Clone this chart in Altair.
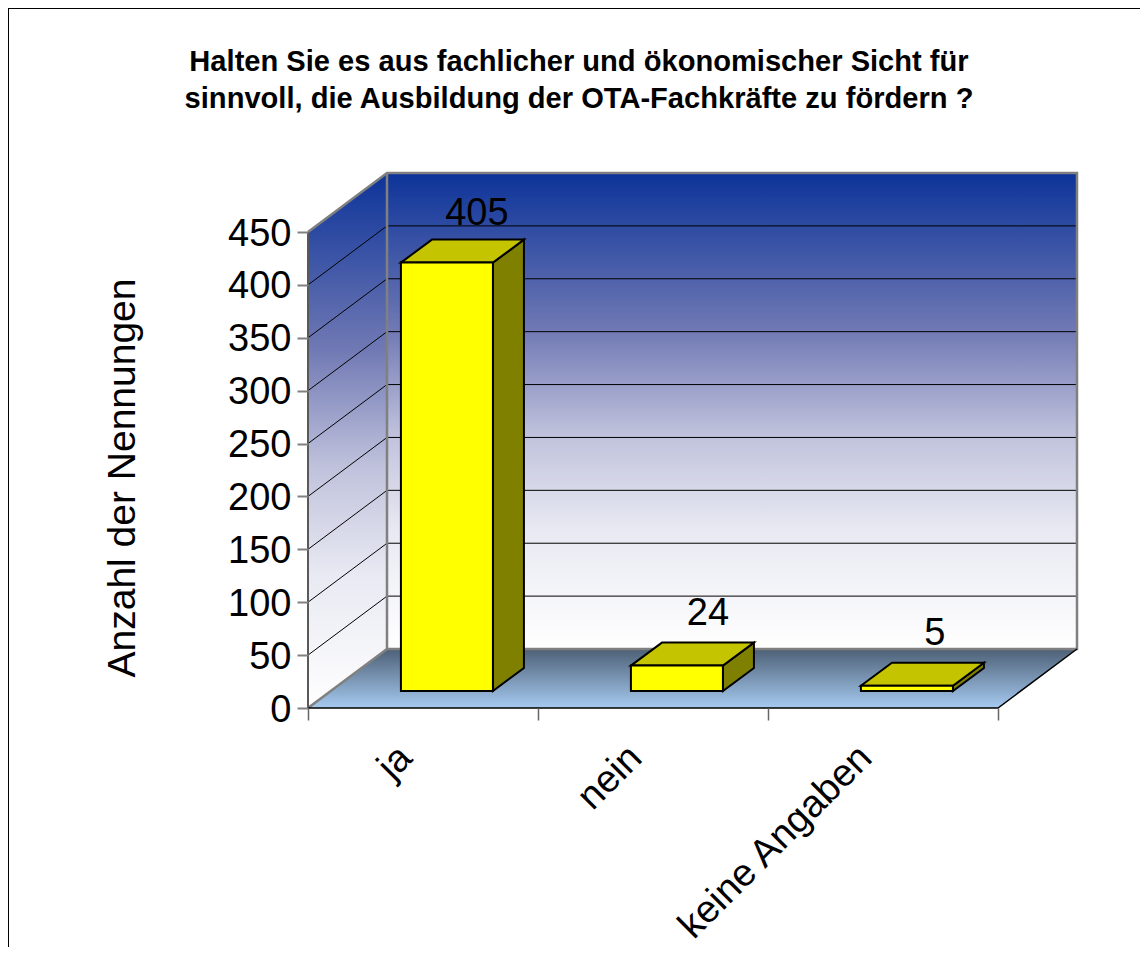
import altair as alt
import pandas as pd

categories = ["ja", "nein", "keine Angaben"]
values = [405, 24, 5]
y_ticks = [0, 50, 100, 150, 200, 250, 300, 350, 400, 450]
x_ticks = [0, 0.5, 1, 1.5, 2, 2.5, 3]
title_lines = ["Halten Sie es aus fachlicher und ökonomischer Sicht für",
               "sinnvoll, die Ausbildung der OTA-Fachkräfte zu fördern ?"]
y_title = "Anzahl der Nennungen"

FONT = "Liberation Sans"
PX_CAT = 230.0
PX_UNIT = 476.0 / 450.0
W, H = 769, 535
DX = 79 / PX_CAT          # depth of the box in data units
DY = 59 / PX_UNIT
BAR_L = 0.404
BAR_W = 0.40
BAR_DX = 31 / PX_CAT
BAR_DY = 23 / PX_UNIT
BASE = 17 / PX_UNIT
TOP = 450
LABEL_NUDGE_X = [-1, 0, -3]
LABEL_NUDGE_Y = [0, 3, 3]

xs = alt.Scale(domain=[0, W / PX_CAT], nice=False, zero=False)
ys = alt.Scale(domain=[0, H / PX_UNIT], nice=False, zero=False)


def X(f="x", **k):
    return alt.X(f, type="quantitative", scale=xs, title=None, **k)


def Y(f="y", **k):
    return alt.Y(f, type="quantitative", scale=ys, title=y_title, stack=None, **k)


def grad(stops):
    return alt.Gradient(gradient="linear", x1=0, x2=0, y1=0, y2=1,
                        stops=[alt.GradientStop(offset=o, color=c) for o, c in stops])


WALL = [(0, "#0c3399"), (0.33, "#7079b4"), (0.55, "#c0c2dc"), (0.75, "#e8e9f2"), (1, "#ffffff")]
FLOOR = [(0, "#4d6076"), (1, "#a6caf0")]

# page frame
frame = alt.Chart(pd.DataFrame({"x": [-300 / PX_CAT], "x2": [1200 / PX_CAT],
                                "y": [700 / PX_UNIT], "y2": [-600 / PX_UNIT]})).mark_rect(
    fill="white", stroke="black", strokeWidth=2, clip=False
).encode(x=X(), x2="x2", y=Y(), y2="y2")

# axes live on an invisible layer
axis_layer = alt.Chart(pd.DataFrame({"x": [0], "y": [0]})).mark_point(opacity=0).encode(
    x=alt.X("x:Q", scale=xs, title=None, axis=alt.Axis(
        values=x_ticks, domain=False, grid=False, tickSize=12, tickWidth=1.5, tickColor="#666666", zindex=1,
        tickOpacity={"condition": {"test": "datum.value % 1 === 0", "value": 1}, "value": 0},
        labelExpr="datum.value === 0.5 ? 'ja' : datum.value === 1.5 ? 'nein' : datum.value === 2.5 ? 'keine Angaben' : ''",
        labelAngle=-45, labelAlign="right", labelBaseline="middle", labelPadding=31, labelOffset=-18,
        labelFont=FONT, labelFontSize=38.5, labelColor="black", labelOverlap=False, labelLimit=500,
        labelBound=False, labelFlush=False)),
    y=alt.Y("y:Q", scale=ys, title=y_title, axis=alt.Axis(
        values=y_ticks, format="d", domain=False, grid=False, tickSize=11, tickWidth=2, zindex=1,
        tickColor="#808080", labelPadding=6, labelOffset=2, labelFont=FONT, labelFontSize=38,
        labelColor="black", labelOverlap=False, labelBound=False, labelFlush=False,
        titleFont=FONT, titleFontSize=39, titleFontWeight="normal", titleColor="black",
        titleAngle=270, titleAlign="center", titleBaseline="middle",
        titleX=-186, titleY=304.5)),
)

# walls and floor
left_wall = alt.Chart(pd.DataFrame({"x": [0, DX], "y": [TOP, TOP + DY], "y2": [0, DY]})).mark_area(
    fill=grad(WALL), clip=False
).encode(x=X(), y=Y(), y2="y2")

back_wall = alt.Chart(pd.DataFrame({"x": [DX], "x2": [DX + 3], "y": [TOP + DY], "y2": [DY]})).mark_rect(
    fill=grad(WALL)
).encode(x=X(), x2="x2", y=Y(), y2="y2")

floor = alt.Chart(pd.DataFrame({"y": [0, DY], "x": [0, DX], "x2": [3, 3 + DX]})).mark_area(
    fill=grad(FLOOR), orient="horizontal"
).encode(y=Y(), x=X(), x2="x2")

grid_rows = []
for t in y_ticks[1:-1]:
    grid_rows += [{"s": t, "x": 0, "y": t}, {"s": t, "x": DX, "y": t + DY}, {"s": t, "x": DX + 3, "y": t + DY}]
grid = alt.Chart(pd.DataFrame(grid_rows)).mark_line(color="black", strokeWidth=1).encode(
    x=X(), y=Y(), detail="s:N")


def seg(points, color, width):
    df = pd.DataFrame(points, columns=["x", "y"])
    df["o"] = range(len(df))
    return alt.Chart(df).mark_line(color=color, strokeWidth=width, clip=False).encode(
        x=X(), y=Y(), order="o:Q")


wall_edge = seg([(0, 0), (DX, DY), (DX + 3, DY), (DX + 3, TOP + DY), (DX, TOP + DY), (0, TOP)], "#808080", 2.5)
inner_edge = seg([(DX, DY), (DX, TOP + DY)], "#808080", 2.5)
left_edge = seg([(0, 0), (0, TOP)], "#595959", 2)
floor_edge = seg([(0, 0), (3, 0), (3 + DX, DY)], "black", 1.5)

# bars
front, side, top, labels = [], [], [], []
for i, (c, v) in enumerate(zip(categories, values)):
    x0 = i + BAR_L
    x1 = x0 + BAR_W
    y1 = BASE + v
    front.append({"c": c, "x": x0, "x2": x1, "y": y1, "y2": BASE})
    side += [{"c": c, "x": x1, "y": y1, "y2": BASE},
             {"c": c, "x": x1 + BAR_DX, "y": y1 + BAR_DY, "y2": BASE + BAR_DY}]
    top += [{"c": c, "y": y1, "x": x0, "x2": x1},
            {"c": c, "y": y1 + BAR_DY, "x": x0 + BAR_DX, "x2": x1 + BAR_DX}]
    labels.append({"c": c, "v": v,
                   "x": x0 + BAR_W / 2 + BAR_DX + LABEL_NUDGE_X[i] / PX_CAT,
                   "y": y1 + BAR_DY + LABEL_NUDGE_Y[i] / PX_UNIT})

bar_side = alt.Chart(pd.DataFrame(side)).mark_area(
    fill="#808000", stroke="black", strokeWidth=2, strokeJoin="miter"
).encode(x=X(), y=Y(), y2="y2", detail="c:N")
bar_top = alt.Chart(pd.DataFrame(top)).mark_area(
    fill="#c4c400", stroke="black", strokeWidth=2, orient="horizontal", strokeJoin="miter"
).encode(y=Y(), x=X(), x2="x2", detail="c:N")
bar_front = alt.Chart(pd.DataFrame(front)).mark_rect(
    fill="#ffff00", stroke="black", strokeWidth=2
).encode(x=X(), x2="x2", y=Y(), y2="y2", detail="c:N")
bar_text = alt.Chart(pd.DataFrame(labels)).mark_text(
    font=FONT, fontSize=38, color="black", align="center", baseline="alphabetic", dy=-15
).encode(x=X(), y=Y(), text="v:Q")

# chart title as text marks (centred over the page-wide chart)
title_df = pd.DataFrame({"t": title_lines,
                         "x": [271 / PX_CAT, 271 / PX_CAT],
                         "y": [637 / PX_UNIT, 600 / PX_UNIT]})
title = alt.Chart(title_df).mark_text(
    font=FONT, fontSize=29.1, fontWeight="bold", color="black", align="center", baseline="alphabetic"
).encode(x=X(), y=Y(), text="t:N")

chart = alt.layer(
    axis_layer, frame, left_wall, back_wall, floor, grid, wall_edge, inner_edge, left_edge, floor_edge,
    bar_side, bar_top, bar_front, bar_text, title
).properties(
    width=W, height=H,
    padding={"left": 300, "top": 165, "right": 63, "bottom": 239},
    autosize=alt.AutoSizeParams(type="none"),
).configure_view(stroke=None)

chart.save("out.html", embed_options={"renderer": "svg", "actions": False})
